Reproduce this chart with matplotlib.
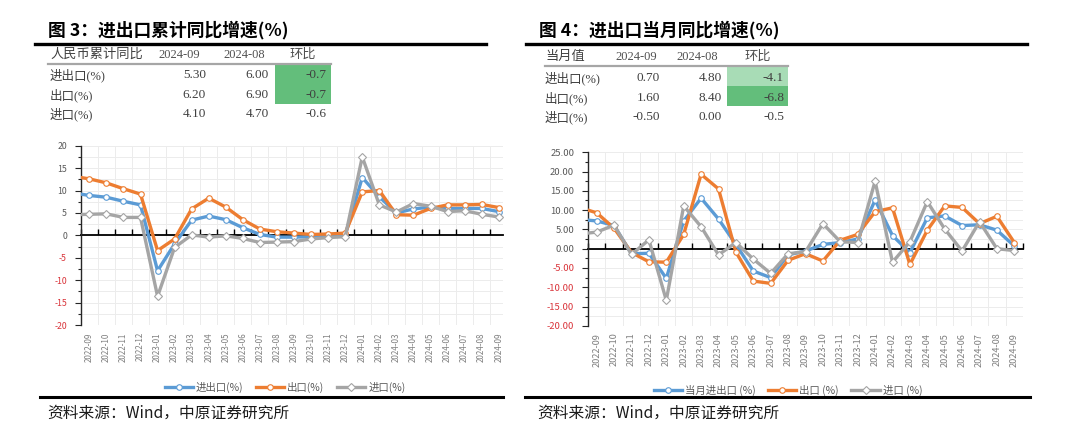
import matplotlib
matplotlib.use("Agg")
import matplotlib.pyplot as plt
import numpy as np
from matplotlib.lines import Line2D
from matplotlib.patches import Rectangle
from matplotlib.ticker import MultipleLocator

plt.rcParams['font.family'] = ['Noto Sans CJK SC', 'DejaVu Sans']

W, H = 1080, 444

# first entry (2022-08) only feeds the segment clipped at the y axis
months = ['2022-08', '2022-09', '2022-10', '2022-11', '2022-12',
          '2023-01', '2023-02', '2023-03', '2023-04', '2023-05', '2023-06',
          '2023-07', '2023-08', '2023-09', '2023-10', '2023-11', '2023-12',
          '2024-01', '2024-02', '2024-03', '2024-04', '2024-05', '2024-06',
          '2024-07', '2024-08', '2024-09']

# Fig 3: cumulative YoY
cum_trade = [9.5, 8.9, 8.5, 7.6, 6.8, -7.9, -1.9, 3.4, 4.3, 3.5, 1.7, 0.2, -0.4,
             -0.4, -0.3, -0.2, 0.0, 12.9, 8.6, 5.0, 5.9, 6.3, 6.0, 6.0, 6.0, 5.3]
cum_export = [13.2, 12.6, 11.7, 10.4, 9.2, -3.4, -0.8, 5.9, 8.3, 6.3, 3.5, 1.4, 0.8,
              0.5, 0.2, 0.3, 0.5, 9.7, 10.0, 4.6, 4.5, 6.0, 6.8, 6.8, 6.9, 6.2]
cum_import = [4.6, 4.7, 4.8, 4.0, 4.0, -13.6, -2.7, 0.1, -0.4, -0.1, -0.7, -1.6, -1.5,
              -1.4, -0.8, -0.5, -0.3, 17.5, 6.8, 5.2, 7.1, 6.5, 5.3, 5.5, 4.7, 4.1]

# Fig 4: monthly YoY
mon_trade = [7.6, 7.2, 6.0, -1.3, -1.2, -7.7, 7.2, 13.1, 7.7, 1.1, -5.8, -7.5, -1.6,
             -0.6, 1.1, 1.6, 2.5, 12.6, 3.4, -1.0, 8.0, 8.5, 6.0, 6.2, 4.8, 0.7]
mon_export = [10.7, 9.3, 5.3, -1.0, -3.4, -3.5, 3.7, 19.3, 15.5, -0.9, -8.4, -9.0, -3.0,
              -1.3, -3.2, 2.2, 3.7, 9.6, 10.6, -4.1, 4.8, 11.1, 10.7, 6.5, 8.4, 1.6]
mon_import = [3.8, 4.3, 6.1, -1.5, 2.3, -13.4, 11.1, 5.7, -1.6, 1.6, -2.7, -6.4, -1.3,
              -0.8, 6.5, 1.8, 1.6, 17.5, -3.5, 1.8, 12.2, 5.1, -0.6, 7.0, 0.0, -0.5]

# summary tables
cum_head = ['人民币累计同比', '2024-09', '2024-08', '环比']
cum_rows = ['进出口(%)', '出口(%)', '进口(%)']
cum_sep = ['5.30', '6.20', '4.10']
cum_aug = ['6.00', '6.90', '4.70']
cum_chg = ['-0.7', '-0.7', '-0.6']
cum_fill = ['#63be7b', '#63be7b', None]

mon_head = ['当月值', '2024-09', '2024-08', '环比']
mon_rows = ['进出口(%)', '出口(%)', '进口(%)']
mon_sep = ['0.70', '1.60', '-0.50']
mon_aug = ['4.80', '8.40', '0.00']
mon_chg = ['-4.1', '-6.8', '-0.5']
mon_fill = ['#a8dcb6', '#63be7b', None]

BLUE, ORANGE, GRAY = '#5b9bd5', '#ed7d31', '#a5a5a5'
TXT = '#595959'
RED = '#d9343a'
TFONT = ['Liberation Serif', 'Noto Sans CJK SC']


def fx(x):
    return x / W


def fy(y):
    return 1 - y / H


fig = plt.figure(figsize=(W / 100, H / 100), dpi=100)


def header(x0, x1, title):
    fig.text(fx(x0 + 1), fy(30), title, fontsize=12.8, fontweight='bold',
             va='center', ha='left', color='black')
    fig.add_artist(Line2D([fx(x0 - 12), fx(x1)], [fy(44), fy(44)],
                          color='black', lw=2.4))


def table(xl, cols_r, head_c, line_x, line_y, rows_y, head, rows, c1, c2, c3, fill, fill_x):
    fig.text(fx(xl), fy(line_y - 9), head[0], fontsize=9.5, color='#404040',
             ha='left', va='center', family=TFONT)
    for k in range(1, 4):
        fig.text(fx(head_c[k - 1]), fy(line_y - 9), head[k],
                 fontsize=9 if k < 3 else 9.5,
                 color='#505050', ha='center', va='center', family=TFONT)
    fig.add_artist(Line2D([fx(line_x[0]), fx(line_x[1])], [fy(line_y), fy(line_y)],
                          color='#a6a6a6', lw=1.6))
    rh = (rows_y[1] - rows_y[0])
    for r in range(3):
        if fill[r]:
            top = line_y + r * rh
            fig.add_artist(Rectangle((fx(fill_x[0]), fy(top + rh)),
                                     fx(fill_x[1]) - fx(fill_x[0]), rh / H,
                                     facecolor=fill[r], edgecolor='none'))
        fig.text(fx(xl), fy(rows_y[r]), rows[r], fontsize=9, color='#404040',
                 ha='left', va='center', family=TFONT)
        for val, xr in zip([c1[r], c2[r], c3[r]], cols_r):
            fig.text(fx(xr), fy(rows_y[r]), val, fontsize=9.5, color='#404040',
                     ha='right', va='center', family=TFONT)


def chart(rect, xmax, s1, s2, s3, ylim, fmt, labels, leg_x, leg_y, tick_fs, y_fs):
    ax = fig.add_axes(rect)
    x = list(range(len(months)))
    for ser, col, mk, lab in [(s1, BLUE, 'o', labels[0]), (s2, ORANGE, 'o', labels[1]),
                              (s3, GRAY, 'D', labels[2])]:
        ax.plot(x, ser, color=col, lw=2.4, marker=mk, ms=4 if mk == 'o' else 3.6,
                mfc='white', mec=col, mew=0.8, label=lab, zorder=3)
    ax.set_xticks([i + 0.5 for i in range(0, len(months))])
    ax.set_xticklabels([])
    yt = np.arange(ylim[0], ylim[1] + 0.1, 5)
    ax.set_yticks(yt)
    ax.set_yticklabels([fmt.format(v) for v in yt])
    for t, v in zip(ax.get_yticklabels(), yt):
        t.set_color(RED if v < 0 else TXT)
    ax.yaxis.set_minor_locator(MultipleLocator(2.5))
    ax.set_xlim(0.5, xmax)
    ax.set_ylim(*ylim)
    ax.grid(True, which='both', axis='y', color='#ececec', lw=0.7)
    ax.grid(True, which='major', axis='x', color='#ececec', lw=0.7)
    ax.set_axisbelow(True)
    for s in ['top', 'right']:
        ax.spines[s].set_visible(False)
    ax.spines['bottom'].set_position(('data', 0))
    ax.spines['bottom'].set_color('black')
    ax.spines['bottom'].set_linewidth(1.3)
    ax.spines['bottom'].set_zorder(2)
    ax.spines['left'].set_color('#262626')
    ax.spines['left'].set_linewidth(1.0)
    ax.tick_params(axis='x', direction='in', length=4, width=1, color='black')
    ax.tick_params(axis='y', which='major', direction='out', length=4, width=0.8,
                   color='#262626', labelsize=y_fs, pad=6)
    ax.tick_params(axis='y', which='minor', direction='out', length=2.5, width=0.8,
                   color='#262626')
    trans = ax.get_xaxis_transform()
    for i in range(1, len(months)):
        ax.text(i, -0.04, months[i], rotation=90, ha='center', va='top',
                fontsize=tick_fs, color='#7f7f7f', transform=trans)
    fig.legend(*ax.get_legend_handles_labels(), loc='center',
               bbox_to_anchor=(fx(leg_x), fy(leg_y)), ncol=3, frameon=False,
               fontsize=7.5, handlelength=2.7, columnspacing=1.2, handletextpad=0.3,
               labelcolor=TXT)
    return ax


header(47, 486, '图 3：进出口累计同比增速(%)')
header(538, 1027, '图 4：进出口当月同比增速(%)')

table(50, [206, 269, 326], [179, 244, 303], (48, 331), 64, [75, 95, 114],
      cum_head, cum_rows, cum_sep, cum_aug, cum_chg, cum_fill, (275, 331))
table(545, [660, 722, 784], [636, 697, 758], (545, 788), 66, [78, 98, 117],
      mon_head, mon_rows, mon_sep, mon_aug, mon_chg, mon_fill, (727, 788))

chart([fx(80.8), fy(325), (503 - 80.8) / W, (325 - 145.7) / H], 25.25,
      cum_trade, cum_export, cum_import, (-20, 20), '{:.0f}',
      ['进出口(%)', '出口(%)', '进口(%)'], 285, 387, 5.8, 6.3)
chart([fx(588), fy(325.8), (1023 - 588) / W, (325.8 - 152.3) / H], 25.5,
      mon_trade, mon_export, mon_import, (-20, 25), '{:.2f}',
      ['当月进出口 (%)', '出口 (%)', '进口 (%)'], 788, 390, 6.6, 6.8)

for x0, x1 in [(40, 503), (525, 1030)]:
    fig.add_artist(Line2D([fx(x0), fx(x1)], [fy(397), fy(397)], color='black', lw=2.2))
fig.text(fx(47), fy(413), '资料来源：Wind，中原证券研究所', fontsize=11.3,
         ha='left', va='center', color='#1a1a1a')
fig.text(fx(537), fy(413), '资料来源：Wind，中原证券研究所', fontsize=11.3,
         ha='left', va='center', color='#1a1a1a')

fig.savefig('out.png', dpi=100, facecolor='white')
